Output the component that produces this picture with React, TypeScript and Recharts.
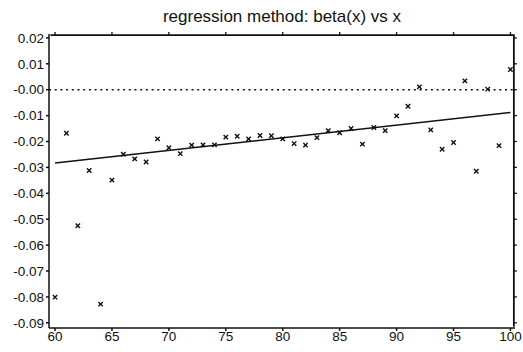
import React from 'react';
import { ComposedChart, Scatter, XAxis, YAxis, ReferenceLine } from 'recharts';

const xValues = [60, 61, 62, 63, 64, 65, 66, 67, 68, 69, 70, 71, 72, 73, 74, 75, 76, 77, 78, 79, 80,
  81, 82, 83, 84, 85, 86, 87, 88, 89, 90, 91, 92, 93, 94, 95, 96, 97, 98, 99, 100];
const betaValues = [-0.0801, -0.0168, -0.0525, -0.0312, -0.0828, -0.0349, -0.0249, -0.0267, -0.0279, -0.019,
  -0.0224, -0.0247, -0.0214, -0.0213, -0.0213, -0.0183, -0.018, -0.019, -0.0177, -0.0178, -0.019,
  -0.0208, -0.0214, -0.0185, -0.0158, -0.0166, -0.015, -0.021, -0.0146, -0.0158, -0.0101,
  -0.0064, 0.0011, -0.0155, -0.023, -0.0204, 0.0034, -0.0315, 0.0002, -0.0216, 0.0078];
const fitX = [60, 100];
const fitY = [-0.0283, -0.0088];
const xTicks = [60, 65, 70, 75, 80, 85, 90, 95, 100];
const yTicks = [0.02, 0.01, 0, -0.01, -0.02, -0.03, -0.04, -0.05, -0.06, -0.07, -0.08, -0.09];
const xDomain = [59.47, 100.4];
const yDomain = [-0.092, 0.0215];
const frameTop = 0.0211;
const frameRight = 100.3;
const title = 'regression method: beta(x) vs x';

const points = xValues.map((x, i) => ({ x, y: betaValues[i] }));
const fitLine = fitX.map((x, i) => ({ x, y: fitY[i] }));
const frame = [
  { x: 59.6, y: frameTop },
  { x: frameRight, y: frameTop },
  { x: frameRight, y: -0.0915 },
];
const topTickPts = xTicks.map((t) => ({ x: t, y: frameTop }));
const rightTickPts = yTicks.map((t) => ({ x: frameRight, y: t }));

const FONT = '"Liberation Sans", Arial, Helvetica, sans-serif';
const tickStyle = { fontSize: 13.5, fill: '#111', fontFamily: FONT };

const Cross = (props: any) => {
  const { cx, cy } = props;
  if (cx == null || cy == null) return <g />;
  const s = 2.2;
  return (
    <g stroke="#111" strokeWidth={1.4}>
      <line x1={cx - s} y1={cy - s} x2={cx + s} y2={cy + s} />
      <line x1={cx - s} y1={cy + s} x2={cx + s} y2={cy - s} />
    </g>
  );
};

const TopTick = (props: any) => {
  const { cx, cy } = props;
  if (cx == null || cy == null) return <g />;
  return <line x1={cx} y1={cy} x2={cx} y2={cy - 3} stroke="#111" strokeWidth={1.3} />;
};

const RightTick = (props: any) => {
  const { cx, cy } = props;
  if (cx == null || cy == null) return <g />;
  return <line x1={cx} y1={cy} x2={cx + 3} y2={cy} stroke="#111" strokeWidth={1.3} />;
};

const NoShape = () => <g />;

const yFmt = (v: number) => (v === 0 ? '-0.00' : v.toFixed(2));

export default function App() {
  return (
    <div style={{ position: 'absolute', left: 0, top: 0, width: 523, height: 352, background: '#fff' }}>
      <div
        style={{
          position: 'absolute',
          left: 0,
          width: 564,
          top: 7,
          textAlign: 'center',
          fontFamily: FONT,
          fontSize: 17,
          lineHeight: '20px',
          color: '#111',
        }}
      >
        {title}
      </div>
      <ComposedChart
        width={523}
        height={352}
        margin={{ top: 34, right: 8, bottom: 0, left: 0 }}
      >
        <XAxis
          dataKey="x"
          type="number"
          domain={xDomain}
          ticks={xTicks}
          orientation="bottom"
          height={24}
          tickSize={3}
          tickMargin={0}
          stroke="#111"
          strokeWidth={1.5}
          tick={tickStyle}
        />
        <YAxis
          dataKey="y"
          type="number"
          domain={yDomain}
          ticks={yTicks}
          orientation="left"
          width={49}
          tickSize={3}
          tickMargin={2}
          stroke="#111"
          strokeWidth={1.5}
          tick={tickStyle}
          tickFormatter={yFmt}
          interval={0}
        />
        <ReferenceLine
          y={0}
          stroke="#111"
          strokeWidth={1.6}
          strokeDasharray="2 3.7"
        />
        <Scatter
          data={frame}
          line={{ stroke: '#111', strokeWidth: 1.8 }}
          lineType="joint"
          shape={NoShape}
          isAnimationActive={false}
        />
        <Scatter data={topTickPts} shape={TopTick} isAnimationActive={false} />
        <Scatter data={rightTickPts} shape={RightTick} isAnimationActive={false} />
        <Scatter
          data={fitLine}
          line={{ stroke: '#111', strokeWidth: 1.5 }}
          lineType="joint"
          shape={NoShape}
          isAnimationActive={false}
        />
        <Scatter
          data={points}
          shape={Cross}
          isAnimationActive={false}
        />
      </ComposedChart>
    </div>
  );
}
